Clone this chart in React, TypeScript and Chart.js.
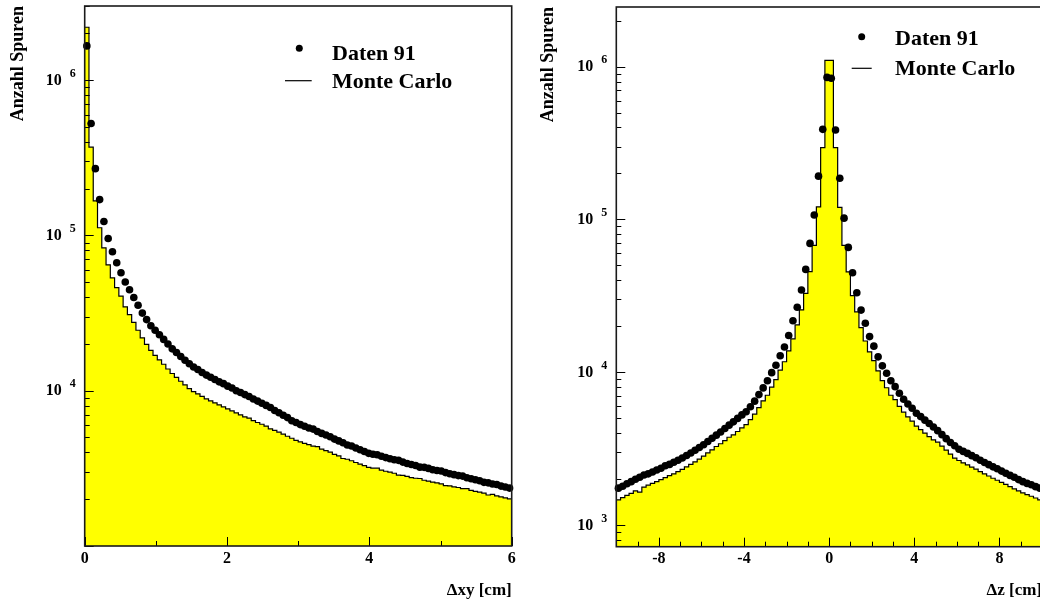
import { useEffect, useRef } from "react";
import { Chart, registerables } from "chart.js";

Chart.register(...registerables);

const SERIF = '"Liberation Serif", "Times New Roman", serif';

// ---------- Left panel: Δxy ----------
const XY_X_MIN = 0;
const XY_X_MAX = 6;
const XY_BIN_WIDTH = 0.06;
const XY_Y_MIN = 1e3;
const XY_Y_MAX = 3.0e6;
const XY_X_TICKS = [0, 1, 2, 3, 4, 5, 6];
const XY_X_LABELS = ["0", "", "2", "", "4", "", "6"];
const XY_X_MAJOR = [0, 2, 4, 6];
const XY_Y_TICKS = [1e4, 1e5, 1e6];
const XY_Y_EXP = ["4", "5", "6"];

const XY_DATA = [
  1.66e6, 5.25e5, 2.69e5, 1.70e5, 1.23e5, 9.55e4, 7.85e4, 6.67e4, 5.75e4, 5.01e4,
  4.47e4, 3.98e4, 3.55e4, 3.16e4, 2.87e4, 2.62e4, 2.45e4, 2.29e4, 2.14e4, 2.00e4,
  1.86e4, 1.76e4, 1.66e4, 1.57e4, 1.49e4, 1.42e4, 1.37e4, 1.31e4, 1.26e4, 1.22e4,
  1.18e4, 1.14e4, 1.11e4, 1.07e4, 1.04e4, 1.00e4, 9.73e3, 9.44e3, 9.18e3, 8.85e3,
  8.57e3, 8.30e3, 8.04e3, 7.80e3, 7.46e3, 7.21e3, 6.95e3, 6.71e3, 6.41e3, 6.24e3,
  6.05e3, 5.90e3, 5.75e3, 5.66e3, 5.46e3, 5.31e3, 5.18e3, 5.05e3, 4.88e3, 4.75e3,
  4.62e3, 4.47e3, 4.40e3, 4.28e3, 4.17e3, 4.06e3, 3.95e3, 3.90e3, 3.87e3, 3.78e3,
  3.71e3, 3.65e3, 3.59e3, 3.56e3, 3.47e3, 3.40e3, 3.35e3, 3.30e3, 3.22e3, 3.21e3,
  3.16e3, 3.10e3, 3.06e3, 3.04e3, 2.97e3, 2.92e3, 2.88e3, 2.84e3, 2.82e3, 2.75e3,
  2.71e3, 2.67e3, 2.63e3, 2.57e3, 2.55e3, 2.51e3, 2.49e3, 2.43e3, 2.40e3, 2.36e3,
];

const XY_MC = [
  2.19e6, 3.70e5, 1.67e5, 1.12e5, 8.32e4, 6.46e4, 5.33e4, 4.61e4, 4.07e4, 3.47e4,
  3.09e4, 2.75e4, 2.45e4, 2.19e4, 1.99e4, 1.82e4, 1.69e4, 1.58e4, 1.48e4, 1.38e4,
  1.29e4, 1.22e4, 1.15e4, 1.09e4, 1.03e4, 9.86e3, 9.55e3, 9.18e3, 8.85e3, 8.59e3,
  8.36e3, 8.11e3, 7.87e3, 7.64e3, 7.41e3, 7.19e3, 6.98e3, 6.79e3, 6.66e3, 6.41e3,
  6.24e3, 6.08e3, 5.92e3, 5.68e3, 5.56e3, 5.41e3, 5.25e3, 5.09e3, 4.94e3, 4.79e3,
  4.68e3, 4.58e3, 4.49e3, 4.39e3, 4.36e3, 4.20e3, 4.11e3, 4.02e3, 3.89e3, 3.80e3,
  3.66e3, 3.62e3, 3.54e3, 3.45e3, 3.37e3, 3.29e3, 3.21e3, 3.17e3, 3.17e3, 3.08e3,
  3.03e3, 2.99e3, 2.94e3, 2.86e3, 2.85e3, 2.81e3, 2.76e3, 2.73e3, 2.72e3, 2.65e3,
  2.62e3, 2.58e3, 2.55e3, 2.51e3, 2.45e3, 2.44e3, 2.40e3, 2.38e3, 2.34e3, 2.34e3,
  2.28e3, 2.25e3, 2.22e3, 2.19e3, 2.13e3, 2.15e3, 2.10e3, 2.07e3, 2.04e3, 2.01e3,
];

// ---------- Right panel: Δz ----------
const Z_X_MIN = -10;
const Z_X_MAX = 10;
const Z_BIN_WIDTH = 0.2;
const Z_Y_MIN = 720;
const Z_Y_MAX = 2.46e6;
const Z_X_TICKS = [-10, -9, -8, -7, -6, -5, -4, -3, -2, -1, 0, 1, 2, 3, 4, 5, 6, 7, 8, 9, 10];
const Z_X_LABELS = ["", "", "-8", "", "", "", "-4", "", "", "", "0", "", "", "", "4", "", "", "", "8", "", ""];
const Z_X_MAJOR = [-8, -4, 0, 4, 8];
const Z_Y_TICKS = [1e3, 1e4, 1e5, 1e6];
const Z_Y_EXP = ["3", "4", "5", "6"];

const Z_DATA = [
  1.74e3, 1.79e3, 1.86e3, 1.92e3, 1.99e3, 2.05e3, 2.12e3, 2.16e3, 2.22e3, 2.29e3,
  2.35e3, 2.44e3, 2.49e3, 2.57e3, 2.65e3, 2.74e3, 2.85e3, 2.96e3, 3.08e3, 3.21e3,
  3.35e3, 3.52e3, 3.69e3, 3.87e3, 4.06e3, 4.28e3, 4.50e3, 4.73e3, 4.98e3, 5.25e3,
  5.51e3, 5.94e3, 6.46e3, 7.13e3, 7.89e3, 8.79e3, 9.93e3, 1.11e4, 1.28e4, 1.46e4,
  1.74e4, 2.17e4, 2.66e4, 3.45e4, 4.71e4, 6.97e4, 1.07e5, 1.92e5, 3.89e5, 8.51e5,
  8.40e5, 3.85e5, 1.86e5, 1.02e5, 6.56e4, 4.48e4, 3.31e4, 2.55e4, 2.09e4, 1.71e4,
  1.48e4, 1.26e4, 1.10e4, 9.84e3, 8.79e3, 8.04e3, 7.28e3, 6.65e3, 6.19e3, 5.81e3,
  5.38e3, 5.12e3, 4.85e3, 4.61e3, 4.38e3, 4.14e3, 3.90e3, 3.67e3, 3.46e3, 3.30e3,
  3.13e3, 3.03e3, 2.94e3, 2.84e3, 2.75e3, 2.65e3, 2.56e3, 2.48e3, 2.40e3, 2.33e3,
  2.25e3, 2.18e3, 2.11e3, 2.05e3, 1.98e3, 1.92e3, 1.87e3, 1.83e3, 1.78e3, 1.74e3,
];

const Z_MC = [
  1.46e3, 1.51e3, 1.56e3, 1.61e3, 1.67e3, 1.64e3, 1.77e3, 1.82e3, 1.87e3, 1.92e3,
  1.98e3, 2.04e3, 2.10e3, 2.16e3, 2.23e3, 2.31e3, 2.40e3, 2.49e3, 2.59e3, 2.70e3,
  2.82e3, 2.96e3, 3.10e3, 3.26e3, 3.40e3, 3.56e3, 3.75e3, 3.89e3, 4.09e3, 4.32e3,
  4.53e3, 4.89e3, 5.31e3, 5.86e3, 6.49e3, 7.06e3, 7.98e3, 8.95e3, 1.03e4, 1.17e4,
  1.38e4, 1.65e4, 2.04e4, 2.56e4, 3.28e4, 4.55e4, 6.76e4, 1.21e5, 2.95e5, 1.10e6,
  1.10e6, 2.95e5, 1.20e5, 6.76e4, 4.54e4, 3.17e4, 2.48e4, 1.96e4, 1.60e4, 1.36e4,
  1.19e4, 1.02e4, 8.81e3, 7.91e3, 7.06e3, 6.61e3, 5.98e3, 5.47e3, 5.09e3, 4.78e3,
  4.43e3, 4.21e3, 3.99e3, 3.79e3, 3.60e3, 3.48e3, 3.28e3, 3.09e3, 2.91e3, 2.74e3,
  2.64e3, 2.55e3, 2.47e3, 2.39e3, 2.32e3, 2.23e3, 2.16e3, 2.09e3, 2.02e3, 1.96e3,
  1.90e3, 1.84e3, 1.78e3, 1.72e3, 1.67e3, 1.62e3, 1.58e3, 1.54e3, 1.50e3, 1.46e3,
];

const DATA_LABEL = "Daten 91";
const MC_LABEL = "Monte Carlo";

function edgePoints(start: number, w: number, vals: number[]) {
  const pts = vals.map((v, i) => ({ x: start + i * w, y: v }));
  pts.push({ x: start + vals.length * w, y: vals[vals.length - 1] });
  return pts;
}
function centerPoints(start: number, w: number, vals: number[]) {
  return vals.map((v, i) => ({ x: start + (i + 0.5) * w, y: v }));
}

type PanelCfg = {
  xMin: number; xMax: number; binW: number; yMin: number; yMax: number;
  data: number[]; mc: number[];
  xTicks: number[]; xLabels: string[]; xMajor: number[];
  yTicks: number[]; yExp: string[];
  xTitle: string;
  width: number; height: number;
  yAxisWidth: number; xAxisHeight: number; padTop: number; padRight: number;
  yTitlePad: number;
  legend: { dotX: number; dotY: number; lx1: number; lx2: number; ly: number; tx: number; t1: number; t2: number };
};

function makeDecor(cfg: PanelCfg) {
  return {
    id: "histDecor",
    afterDatasetsDraw(chart: any) {
      const { ctx, chartArea: a, scales } = chart;
      const xs = scales.x;
      const ys = scales.y;
      ctx.save();
      // inner tick marks
      ctx.strokeStyle = "#000";
      ctx.lineWidth = 1;
      ctx.beginPath();
      for (const v of cfg.xTicks) {
        const px = Math.round(xs.getPixelForValue(v)) + 0.5;
        const len = cfg.xMajor.includes(v) ? 9 : 5;
        ctx.moveTo(px, a.bottom);
        ctx.lineTo(px, a.bottom - len);
      }
      const d0 = Math.floor(Math.log10(cfg.yMin));
      const d1 = Math.ceil(Math.log10(cfg.yMax));
      for (let d = d0; d <= d1; d++) {
        for (let k = 1; k <= 9; k++) {
          const v = k * Math.pow(10, d);
          if (v < cfg.yMin || v > cfg.yMax) continue;
          const py = Math.round(ys.getPixelForValue(v)) + 0.5;
          const len = k === 1 ? 9 : 5;
          ctx.moveTo(a.left, py);
          ctx.lineTo(a.left + len, py);
        }
      }
      ctx.stroke();
      // frame
      ctx.strokeStyle = "#1a1a1a";
      ctx.lineWidth = 1.6;
      ctx.strokeRect(a.left, a.top, a.right - a.left, a.bottom - a.top);
      // y labels 10^n
      ctx.fillStyle = "#000";
      cfg.yTicks.forEach((v, i) => {
        const py = ys.getPixelForValue(v);
        ctx.font = `bold 16px ${SERIF}`;
        ctx.textAlign = "right";
        ctx.textBaseline = "middle";
        ctx.fillText("10", a.left - 23, py + 0.5);
        ctx.font = `bold 12px ${SERIF}`;
        ctx.textAlign = "left";
        ctx.fillText(cfg.yExp[i], a.left - 15, py - 6.5);
      });
      // legend
      const L = cfg.legend;
      const ds = chart.data.datasets;
      ctx.beginPath();
      ctx.arc(L.dotX, L.dotY, 3.5, 0, Math.PI * 2);
      ctx.fill();
      ctx.beginPath();
      ctx.lineWidth = 1.2;
      ctx.strokeStyle = "#000";
      ctx.moveTo(L.lx1, L.ly);
      ctx.lineTo(L.lx2, L.ly);
      ctx.stroke();
      ctx.font = `bold 22px ${SERIF}`;
      ctx.textAlign = "left";
      ctx.textBaseline = "alphabetic";
      ctx.fillText(ds[0].label, L.tx, L.t1);
      ctx.fillText(ds[1].label, L.tx, L.t2);
      ctx.restore();
    },
  };
}

function HistPanel({ cfg, left }: { cfg: PanelCfg; left: number }) {
  const ref = useRef<HTMLCanvasElement>(null);
  useEffect(() => {
    const chart = new Chart(ref.current as HTMLCanvasElement, {
      type: "line",
      data: {
        datasets: [
          {
            type: "scatter",
            label: DATA_LABEL,
            data: centerPoints(cfg.xMin, cfg.binW, cfg.data),
            pointRadius: 3.8,
            pointBackgroundColor: "#000",
            pointBorderWidth: 0,
            showLine: false,
            order: 0,
            clip: false,
          } as any,
          {
            type: "line",
            label: MC_LABEL,
            data: edgePoints(cfg.xMin, cfg.binW, cfg.mc),
            stepped: "before",
            fill: "start",
            backgroundColor: "#ffff00",
            borderColor: "#000",
            borderWidth: 1.2,
            pointRadius: 0,
            order: 1,
          } as any,
        ],
      },
      options: {
        responsive: false,
        animation: false,
        events: [],
        layout: { padding: { top: cfg.padTop, right: cfg.padRight, left: 0, bottom: 0 } },
        scales: {
          x: {
            type: "linear",
            min: cfg.xMin,
            max: cfg.xMax,
            afterBuildTicks: (s: any) => {
              s.ticks = cfg.xTicks.map((v) => ({ value: v }));
            },
            afterFit: (s: any) => {
              s.height = cfg.xAxisHeight;
            },
            grid: { display: false, drawTicks: false },
            border: { display: false },
            ticks: {
              autoSkip: false,
              maxRotation: 0,
              padding: 3,
              color: "#000",
              font: { family: SERIF, size: 16, weight: "bold" },
              callback: (_v: any, i: number) => cfg.xLabels[i],
            },
            title: {
              display: true,
              text: cfg.xTitle,
              align: "end",
              color: "#000",
              font: { family: SERIF, size: 17, weight: "bold" },
              padding: { top: 0, bottom: 3 },
            },
          } as any,
          y: {
            type: "logarithmic",
            min: cfg.yMin,
            max: cfg.yMax,
            afterBuildTicks: (s: any) => {
              s.ticks = cfg.yTicks.map((v) => ({ value: v }));
            },
            afterFit: (s: any) => {
              s.width = cfg.yAxisWidth;
            },
            grid: { display: false, drawTicks: false },
            border: { display: false },
            ticks: { display: false },
            title: {
              display: true,
              text: "Anzahl Spuren",
              align: "end",
              color: "#000",
              font: { family: SERIF, size: 18, weight: "bold" },
              padding: { top: cfg.yTitlePad, bottom: 0 },
            },
          } as any,
        },
        plugins: {
          legend: { display: false },
          tooltip: { enabled: false },
        },
      },
      plugins: [makeDecor(cfg) as any],
    });
    return () => chart.destroy();
  }, [cfg]);
  return (
    <canvas
      ref={ref}
      width={cfg.width}
      height={cfg.height}
      style={{ position: "absolute", left, top: 0, width: cfg.width, height: cfg.height }}
    />
  );
}

const LEFT_CFG: PanelCfg = {
  xMin: XY_X_MIN, xMax: XY_X_MAX, binW: XY_BIN_WIDTH, yMin: XY_Y_MIN, yMax: XY_Y_MAX,
  data: XY_DATA, mc: XY_MC,
  xTicks: XY_X_TICKS, xLabels: XY_X_LABELS, xMajor: XY_X_MAJOR,
  yTicks: XY_Y_TICKS, yExp: XY_Y_EXP,
  xTitle: "Δxy [cm]",
  width: 520, height: 604,
  yAxisWidth: 84.7, xAxisHeight: 58, padTop: 6, padRight: 8.3,
  yTitlePad: 7.2,
  legend: { dotX: 299.3, dotY: 48.3, lx1: 285, lx2: 311.7, ly: 80.7, tx: 332, t1: 60, t2: 87.5 },
};

const RIGHT_CFG: PanelCfg = {
  xMin: Z_X_MIN, xMax: Z_X_MAX, binW: Z_BIN_WIDTH, yMin: Z_Y_MIN, yMax: Z_Y_MAX,
  data: Z_DATA, mc: Z_MC,
  xTicks: Z_X_TICKS, xLabels: Z_X_LABELS, xMajor: Z_X_MAJOR,
  yTicks: Z_Y_TICKS, yExp: Z_Y_EXP,
  xTitle: "Δz [cm]",
  width: 540, height: 604,
  yAxisWidth: 96.3, xAxisHeight: 57.3, padTop: 7, padRight: 18,
  yTitlePad: 17.2,
  legend: { dotX: 341.7, dotY: 36.7, lx1: 331.7, lx2: 351.7, ly: 68.3, tx: 375, t1: 45, t2: 75 },
};

export default function App() {
  return (
    <div
      style={{
        position: "fixed",
        left: 0,
        top: 0,
        width: 1040,
        height: 604,
        overflow: "hidden",
        background: "#fff",
      }}
    >
      <HistPanel cfg={LEFT_CFG} left={0} />
      <HistPanel cfg={RIGHT_CFG} left={520} />
    </div>
  );
}
